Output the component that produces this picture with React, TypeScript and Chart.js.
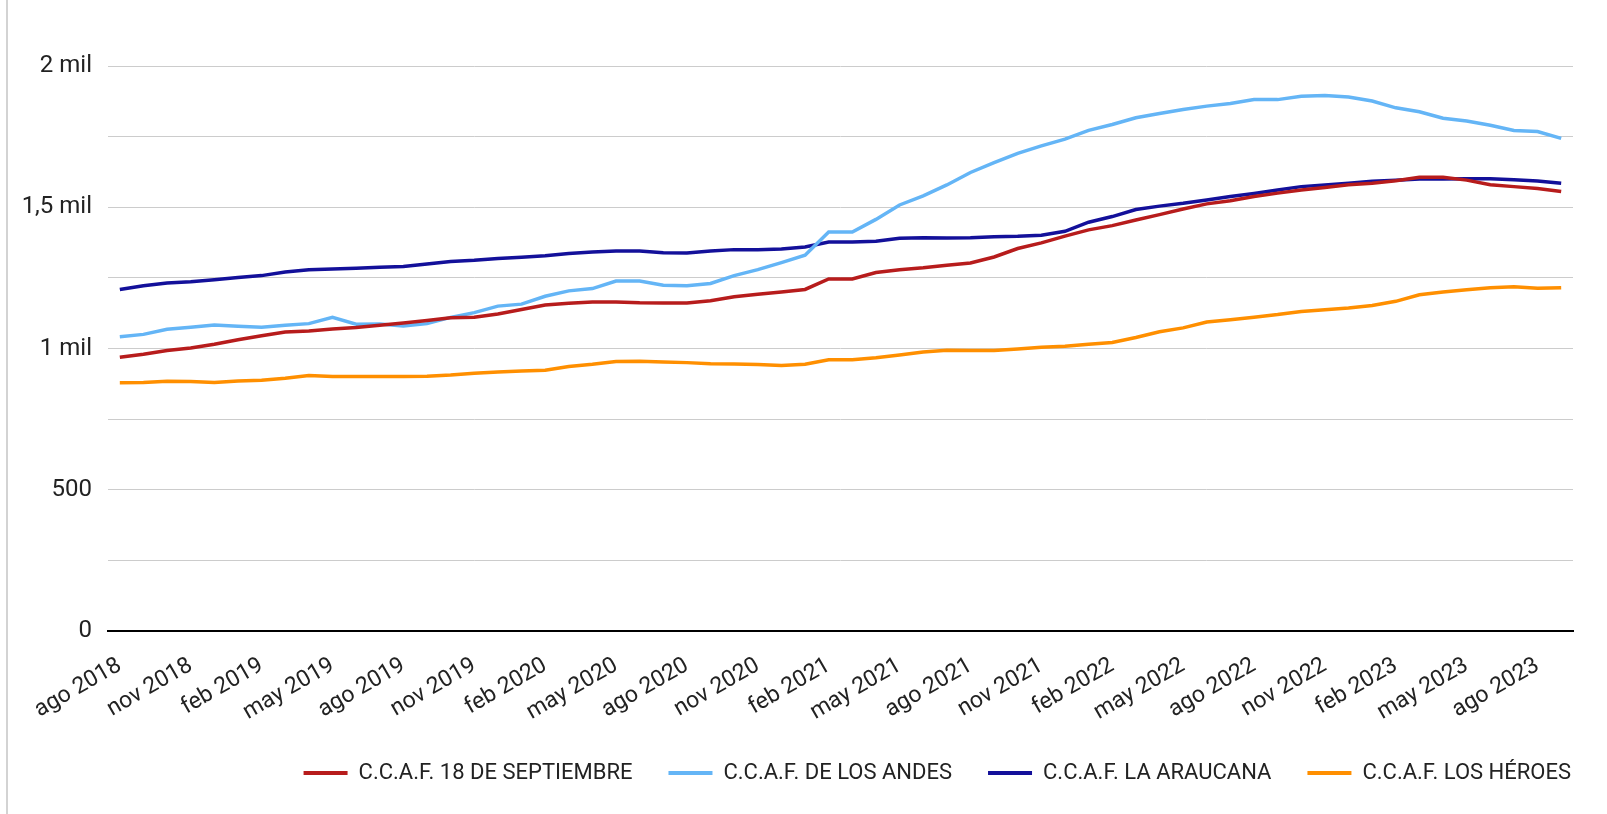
import React, { useEffect, useRef } from "react";
import { Chart, registerables } from "chart.js";

Chart.register(...registerables);

const LABELS = [
  "ago 2018", "sept 2018", "oct 2018", "nov 2018", "dic 2018",
  "ene 2019", "feb 2019", "mar 2019", "abr 2019", "may 2019", "jun 2019", "jul 2019", "ago 2019", "sept 2019", "oct 2019", "nov 2019", "dic 2019",
  "ene 2020", "feb 2020", "mar 2020", "abr 2020", "may 2020", "jun 2020", "jul 2020", "ago 2020", "sept 2020", "oct 2020", "nov 2020", "dic 2020",
  "ene 2021", "feb 2021", "mar 2021", "abr 2021", "may 2021", "jun 2021", "jul 2021", "ago 2021", "sept 2021", "oct 2021", "nov 2021", "dic 2021",
  "ene 2022", "feb 2022", "mar 2022", "abr 2022", "may 2022", "jun 2022", "jul 2022", "ago 2022", "sept 2022", "oct 2022", "nov 2022", "dic 2022",
  "ene 2023", "feb 2023", "mar 2023", "abr 2023", "may 2023", "jun 2023", "jul 2023", "ago 2023", "sept 2023",
];

const SEPTIEMBRE = [
  969, 980, 993, 1002, 1015, 1031, 1045, 1058, 1062, 1069,
  1074, 1082, 1090, 1099, 1109, 1111, 1122, 1138, 1154, 1160,
  1165, 1165, 1162, 1161, 1161, 1169, 1183, 1192, 1200, 1209,
  1246, 1246, 1269, 1279, 1286, 1295, 1303, 1324, 1354, 1374,
  1398, 1420, 1435, 1455, 1474, 1494, 1512, 1523, 1538, 1550,
  1561, 1570, 1580, 1585, 1594, 1606, 1606, 1596, 1580, 1573,
  1566, 1556,
];

const ANDES = [
  1042, 1050, 1068, 1075, 1083, 1079, 1075, 1082, 1088, 1110,
  1086, 1087, 1080, 1088, 1110, 1127, 1150, 1157, 1185, 1204,
  1212, 1239, 1239, 1224, 1222, 1230, 1258, 1279, 1304, 1330,
  1412, 1412, 1457, 1508, 1540, 1579, 1623, 1658, 1691, 1717,
  1741, 1772, 1793, 1817, 1832, 1846, 1858, 1867, 1881, 1881,
  1893, 1896, 1890, 1876, 1852, 1838, 1815, 1805, 1790, 1772,
  1768, 1744,
];

const ARAUCANA = [
  1209, 1222, 1232, 1236, 1243, 1251, 1258, 1271, 1279, 1281,
  1284, 1288, 1290, 1299, 1308, 1312, 1319, 1323, 1328, 1336,
  1342, 1345, 1345, 1339, 1338, 1345, 1350, 1350, 1352, 1359,
  1377, 1377, 1380, 1390, 1392, 1391, 1392, 1396, 1397, 1401,
  1415, 1447, 1467, 1492, 1504, 1514, 1526, 1538, 1549, 1561,
  1573, 1579, 1585, 1592, 1596, 1600, 1600, 1601, 1601, 1597,
  1593, 1585,
];

const HEROES = [
  879, 880, 884, 883, 880, 885, 888, 895, 904, 901,
  901, 901, 901, 902, 906, 912, 917, 920, 923, 936,
  944, 954, 955, 952, 950, 946, 945, 943, 940, 944,
  960, 960, 967, 977, 988, 994, 993, 993, 998, 1004,
  1008, 1015, 1021, 1039, 1059, 1073, 1094, 1102, 1111, 1120,
  1131, 1137, 1143, 1152, 1167, 1190, 1200, 1208, 1215, 1219,
  1213, 1215,
];

const SERIES_NAMES = [
  "C.C.A.F. 18 DE SEPTIEMBRE",
  "C.C.A.F. DE LOS ANDES",
  "C.C.A.F. LA ARAUCANA",
  "C.C.A.F. LOS HÉROES",
];

const Y_TICK_VALUES = [0, 500, 1000, 1500, 2000];
const Y_TICK_TEXT = ["0", "500", "1 mil", "1,5 mil", "2 mil"];

const COLORS = ["#B71C1C", "#64B5F6", "#13109A", "#FF8F00"];

export default function App() {
  const ref = useRef<HTMLCanvasElement | null>(null);

  useEffect(() => {
    if (!ref.current) return;
    const seriesData = [SEPTIEMBRE, ANDES, ARAUCANA, HEROES];
    const chart = new Chart(ref.current, {
      type: "line",
      data: {
        labels: LABELS,
        datasets: seriesData.map((d, i) => ({
          label: SERIES_NAMES[i],
          data: d,
          borderColor: COLORS[i],
          backgroundColor: COLORS[i],
          borderWidth: 3.5,
          pointRadius: 0,
          tension: 0,
        })),
      },
      options: {
        animation: false,
        responsive: false,
        maintainAspectRatio: false,
        layout: { padding: { left: 0, right: 0, top: 66, bottom: 20 } },
        plugins: {
          tooltip: { enabled: false },
          legend: {
            position: "bottom",
            align: "end",
            labels: {
              boxWidth: 44,
              boxHeight: 4,
              padding: 36,
              color: "#222",
              font: { family: "Roboto", size: 22 },
              generateLabels: (c: any) =>
                Chart.defaults.plugins.legend.labels
                  .generateLabels(c)
                  .map((l: any) => ({ ...l, lineWidth: 0 })),
            },
          },
        },
        scales: {
          x: {
            offset: true,
            grid: { display: false, drawTicks: false },
            border: { display: true, color: "#000", width: 2 },
            afterFit: (s: any) => {
              s.height = 95;
            },
            ticks: {
              autoSkip: false,
              maxRotation: 30,
              minRotation: 30,
              padding: 21,
              color: "#222",
              font: { family: "Roboto", size: 23 },
              callback: (_v: any, i: number) => (i % 3 === 0 ? LABELS[i] : ""),
            },
          },
          y: {
            min: 0,
            max: 2000,
            afterFit: (s: any) => {
              s.width = 108;
            },
            grid: { color: "#cccccc", lineWidth: 1, drawTicks: false },
            border: { display: false },
            ticks: {
              stepSize: 250,
              padding: 16,
              color: "#222",
              font: { family: "Roboto", size: 24 },
              callback: (v: any) => {
                const k = Y_TICK_VALUES.indexOf(Number(v));
                return k >= 0 ? Y_TICK_TEXT[k] : "";
              },
            },
          },
          y2: {
            position: "right",
            display: true,
            grid: { display: false, drawTicks: false },
            border: { display: false },
            ticks: { display: false },
            afterFit: (s: any) => {
              s.width = 34;
            },
          },
        },
      } as any,
    });
    return () => chart.destroy();
  }, []);

  return (
    <div
      style={{
        position: "fixed",
        left: 0,
        top: 0,
        width: 1607,
        height: 814,
        background: "#fff",
      }}
    >
      <div
        style={{
          position: "absolute",
          left: 6,
          top: 0,
          width: 2,
          height: 814,
          background: "#d3d3d3",
        }}
      />
      <canvas
        ref={ref}
        width={1607}
        height={814}
        style={{ position: "absolute", left: 0, top: 0, width: 1607, height: 814 }}
      />
    </div>
  );
}
